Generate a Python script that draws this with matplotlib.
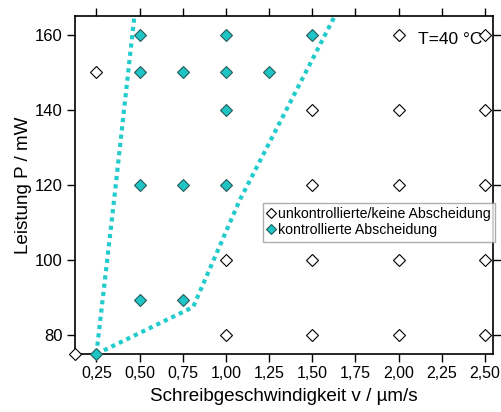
import matplotlib
matplotlib.use("Agg")
import matplotlib.pyplot as plt

plt.rcParams['font.family'] = ['Liberation Sans', 'DejaVu Sans']

# Uncontrolled / no deposition
v_unk = [0.125, 0.25, 1.0, 1.0, 1.5, 1.5, 1.5, 1.5, 2.0, 2.0, 2.0, 2.0, 2.0,
         2.5, 2.5, 2.5, 2.5, 2.5]
p_unk = [75, 150, 100, 80, 140, 120, 100, 80, 160, 140, 120, 100, 80,
         160, 140, 120, 100, 80]

# Controlled deposition
v_kon = [0.25, 0.5, 0.5, 0.5, 0.5, 0.75, 0.75, 0.75, 1.0, 1.0, 1.0, 1.0, 1.25, 1.5]
p_kon = [75, 160, 150, 120, 89.5, 150, 120, 89.5, 160, 150, 140, 120, 150, 160]

# Boundaries of the process window
v_left = [0.25, 0.35, 0.47]
p_left = [75, 115, 165]
v_right = [0.25, 0.81, 1.08, 1.63]
p_right = [75, 87.5, 116, 165]

x_ticks = [0.25, 0.50, 0.75, 1.00, 1.25, 1.50, 1.75, 2.00, 2.25, 2.50]
x_ticklabels = ["0,25", "0,50", "0,75", "1,00", "1,25", "1,50", "1,75", "2,00", "2,25", "2,50"]
y_ticks = [80, 100, 120, 140, 160]

teal = '#1fc4c4'
line_teal = '#22cccc'

fig = plt.figure(figsize=(5.02, 4.12), dpi=100)
ax = fig.add_axes([0.149, 0.1408, 0.833, 0.8202])

ax.plot(v_left, p_left, linestyle=(0, (1, 1)), color=line_teal, lw=3, zorder=2)
ax.plot(v_right, p_right, linestyle=(0, (1, 1)), color=line_teal, lw=3, zorder=2)

ax.plot(v_unk, p_unk, linestyle='none', marker='D', ms=6.2, mfc='white',
        mec='black', mew=0.8, label='unkontrollierte/keine Abscheidung',
        zorder=3, clip_on=False)
ax.plot(v_kon, p_kon, linestyle='none', marker='D', ms=6.2, mfc=teal,
        mec='#2a5a5a', mew=0.8, label='kontrollierte Abscheidung',
        zorder=3, clip_on=False)

ax.set_xlim(0.125, 2.546)
ax.set_ylim(75, 165)
ax.set_xticks(x_ticks)
ax.set_xticklabels(x_ticklabels)
ax.set_yticks(y_ticks)
ax.tick_params(axis='both', direction='out', length=6, width=1,
               top=True, right=True)
ax.tick_params(axis='x', labelsize=11.5, pad=3)
ax.tick_params(axis='y', labelsize=12, pad=3)
for s in ax.spines.values():
    s.set_linewidth(1.2)

ax.set_xlabel('Schreibgeschwindigkeit v / µm/s', fontsize=13.6, labelpad=5)
ax.set_ylabel('Leistung P / mW', fontsize=13.6, labelpad=1.5)

ax.text(0.975, 0.93, 'T=40 °C', transform=ax.transAxes, ha='right',
        va='center', fontsize=12.5)

leg = ax.legend(loc='upper right', bbox_to_anchor=(1.006, 0.447), fontsize=10.2,
                frameon=True, fancybox=False, edgecolor='#999999',
                handlelength=0.6, handletextpad=0.2, borderpad=0.3,
                labelspacing=0.15, borderaxespad=0.0, markerscale=0.9)
leg.get_frame().set_linewidth(1.0)

fig.savefig('out.png', dpi=100)
